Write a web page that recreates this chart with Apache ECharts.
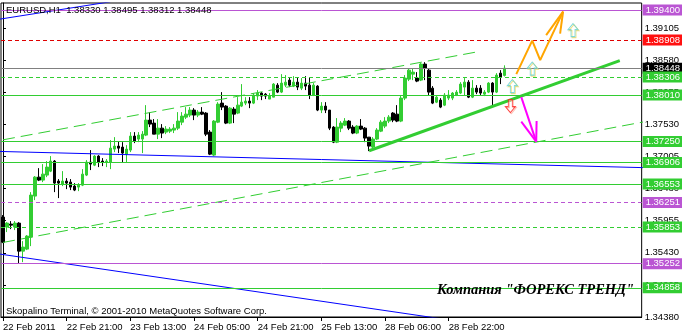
<!DOCTYPE html>
<html><head><meta charset="utf-8">
<script src="https://cdn.jsdelivr.net/npm/echarts@6/dist/echarts.min.js"></script>
<style>html,body{margin:0;padding:0;background:#fff}#c{width:682px;height:336px}</style>
</head><body><div id="c"></div>
<script>
// [open, close, low, high]
const candles = [
[1.36013,1.35604,1.35588,1.36046],[1.35850,1.35915,1.35768,1.35931],[1.35899,1.35882,1.35817,1.35948],[1.35850,1.35915,1.35801,1.35948],
[1.35915,1.35457,1.35261,1.35931],[1.35457,1.35523,1.35277,1.35621],[1.35490,1.35703,1.35474,1.35719],[1.35686,1.36373,1.35539,1.36422],
[1.36357,1.36667,1.36291,1.36684],[1.36667,1.36618,1.36602,1.36814],[1.36618,1.36716,1.36585,1.36880],[1.36700,1.36831,1.36667,1.36929],
[1.36765,1.36929,1.36749,1.37011],[1.36929,1.36569,1.36422,1.36945],[1.36602,1.36569,1.36324,1.36635],[1.36553,1.36602,1.36520,1.36765],
[1.36602,1.36569,1.36471,1.36651],[1.36585,1.36504,1.36455,1.36635],[1.36520,1.36455,1.36438,1.36569],[1.36504,1.36536,1.36438,1.36569],
[1.36536,1.36716,1.36520,1.36798],[1.36700,1.36912,1.36684,1.36945],[1.36912,1.36880,1.36782,1.37109],[1.36863,1.37011,1.36847,1.37027],
[1.37011,1.36912,1.36831,1.37027],[1.36929,1.36912,1.36847,1.36978],[1.36912,1.36929,1.36831,1.36962],[1.36912,1.37141,1.36798,1.37272],
[1.37125,1.37174,1.37076,1.37321],[1.37174,1.37141,1.37060,1.37256],[1.37158,1.37060,1.36912,1.37239],[1.37043,1.37125,1.36912,1.37190],
[1.37109,1.37338,1.37076,1.37403],[1.37338,1.37256,1.37223,1.37403],[1.37289,1.37354,1.37239,1.37403],[1.37289,1.37370,1.37060,1.37419],
[1.37354,1.37599,1.37338,1.37844],[1.37599,1.37534,1.37485,1.37730],[1.37550,1.37370,1.37370,1.37616],[1.37370,1.37468,1.37289,1.37616],
[1.37468,1.37387,1.37305,1.37534],[1.37403,1.37452,1.37370,1.37501],[1.37419,1.37452,1.37387,1.37485],[1.37436,1.37468,1.37387,1.37534],
[1.37468,1.37583,1.37436,1.37730],[1.37566,1.37665,1.37517,1.37730],[1.37648,1.37697,1.37616,1.37812],[1.37681,1.37763,1.37648,1.37812],
[1.37763,1.37681,1.37599,1.37795],[1.37681,1.37730,1.37648,1.37763],[1.37730,1.37697,1.37681,1.37812],[1.37714,1.37370,1.37338,1.37730],
[1.37403,1.37043,1.37027,1.37436],[1.37027,1.37583,1.37011,1.37599],[1.37566,1.37861,1.37550,1.37893],[1.37877,1.37812,1.37763,1.38057],
[1.37828,1.37550,1.37534,1.37844],[1.37550,1.37795,1.37534,1.37812],[1.37779,1.37697,1.37550,1.37812],[1.37714,1.37844,1.37697,1.37975],
[1.37828,1.37893,1.37812,1.38188],[1.37877,1.37910,1.37844,1.37975],[1.37910,1.37877,1.37795,1.37975],[1.37877,1.38008,1.37861,1.38041],
[1.37992,1.38041,1.37926,1.38090],[1.38041,1.37992,1.37926,1.38057],[1.38024,1.37992,1.37943,1.38041],[1.37943,1.37992,1.37943,1.38041],
[1.37975,1.38188,1.37975,1.38204],[1.38171,1.38057,1.38041,1.38204],[1.38057,1.38204,1.38041,1.38351],[1.38171,1.38220,1.38139,1.38335],
[1.38253,1.38171,1.38139,1.38302],[1.38155,1.38220,1.38139,1.38318],[1.38220,1.38139,1.38090,1.38302],[1.38122,1.38204,1.38090,1.38286],
[1.38204,1.38155,1.38090,1.38318],[1.38171,1.38008,1.37943,1.38302],[1.38008,1.38171,1.37992,1.38204],[1.38155,1.37763,1.37746,1.38171],
[1.37763,1.37828,1.37714,1.37893],[1.37828,1.37763,1.37714,1.37893],[1.37763,1.37468,1.37436,1.37763],[1.37485,1.37239,1.37223,1.37501],
[1.37239,1.37485,1.37223,1.37632],[1.37468,1.37550,1.37403,1.37583],[1.37517,1.37583,1.37501,1.37632],[1.37583,1.37468,1.37436,1.37599],
[1.37485,1.37387,1.37370,1.37517],[1.37387,1.37501,1.37370,1.37517],[1.37501,1.37452,1.37436,1.37616],[1.37468,1.37305,1.37239,1.37485],
[1.37321,1.37174,1.37092,1.37321],[1.37158,1.37289,1.37141,1.37321],[1.37289,1.37436,1.37272,1.37468],[1.37419,1.37566,1.37403,1.37599],
[1.37501,1.37583,1.37468,1.37648],[1.37583,1.37648,1.37550,1.37681],[1.37714,1.37599,1.37566,1.37730],[1.37697,1.37583,1.37566,1.37844],
[1.37583,1.37959,1.37566,1.38008],[1.37959,1.38286,1.37926,1.38335],[1.38269,1.38416,1.38237,1.38449],[1.38351,1.38384,1.38253,1.38449],
[1.38286,1.38237,1.38220,1.38384],[1.38253,1.38515,1.38237,1.38531],[1.38515,1.38449,1.38253,1.38547],[1.38416,1.38057,1.38008,1.38449],
[1.38122,1.37877,1.37861,1.38155],[1.37893,1.37975,1.37877,1.37992],[1.37926,1.37812,1.37795,1.37959],[1.37844,1.38008,1.37828,1.38041],
[1.37959,1.38008,1.37926,1.38090],[1.37959,1.38041,1.37926,1.38057],[1.38008,1.38057,1.37992,1.38090],[1.38041,1.38188,1.38024,1.38220],
[1.38139,1.38220,1.38008,1.38286],[1.38220,1.37975,1.37959,1.38253],[1.37975,1.38122,1.37959,1.38253],[1.38122,1.38057,1.38024,1.38171],
[1.38122,1.38041,1.38008,1.38171],[1.38024,1.38057,1.37992,1.38090],[1.38057,1.38204,1.38041,1.38220],[1.38204,1.38057,1.37828,1.38220],
[1.38057,1.38335,1.38041,1.38367],[1.38367,1.38302,1.38188,1.38416],[1.38330,1.38448,1.38312,1.38495]
];
const slotCount = 161;
const xTickEvery = 16;
const xTickLabels = ['22 Feb 2011','22 Feb 21:00','23 Feb 13:00','24 Feb 05:00','24 Feb 21:00','25 Feb 13:00','28 Feb 06:00','28 Feb 22:00'];
const yTickStart = 1.34380, yTickStep = 0.00525, yTop = 1.39514;

const levelPrices = [1.39400, 1.38908, 1.38448, 1.38306, 1.38010, 1.37250, 1.36906, 1.36553, 1.36251, 1.35853, 1.35252, 1.34858];
const levelKinds  = ['purple','reddash','bid','greendash','green','green','green','green','purpledash','greendash','purple','green'];

const blueTopLine   = [[-2, 1.39238], [27, 1.39534]];
const blueUpperLine = [[-1, 1.37087], [161, 1.36822]];
const blueLowerLine = [[-1, 1.35411], [110, 1.34352]];
const chanUpperLine = [[0, 1.37277], [119.25, 1.38716]];
const chanLowerLine = [[0, 1.35599], [161, 1.37570]];
const trendLine     = [[92, 1.37098], [155, 1.38572]];
const orangePath    = [[129, 1.38351], [133, 1.38899], [135, 1.38580], [140.75, 1.39373]];
const orangeHeadA   = [[136.5, 1.38989], [140.75, 1.39373]];
const orangeHeadB   = [[140, 1.39013], [140.75, 1.39373]];
const magentaPath   = [[130.25, 1.37975], [134, 1.37248]];
const magentaHeadA  = [[130.25, 1.37575], [134, 1.37248]];
const magentaHeadB  = [[134.1, 1.37583], [134, 1.37248]];
const upArrows   = [[128, 1.38155], [133, 1.38441], [143.25, 1.39071]];
const downArrows = [[127.5, 1.37828]];

const FONT = 'Liberation Sans';
const GREEN = '#32CD32', PURPLE = '#BA55D3', BLUE = '#0000FF';
const kindStyle = {
  purple:     {line: PURPLE, type: 'solid', box: PURPLE},
  purpledash: {line: PURPLE, type: [4,3], box: PURPLE},
  reddash:    {line: '#E00000', type: [4,3], box: '#FF1010'},
  bid:        {line: '#808080', type: 'solid', box: '#000000'},
  green:      {line: GREEN, type: 'solid', box: GREEN},
  greendash:  {line: GREEN, type: [4,3], box: GREEN}
};

const slots = [];
for (let i = 0; i < slotCount; i++) slots.push(String(i));
const tickShown = (idx) => idx % xTickEvery === 0 && (idx / xTickEvery) < xTickLabels.length;

function seg(data, color, width, type, z) {
  return {type: 'line', xAxisIndex: 1, yAxisIndex: 0, data: data, symbol: 'none', silent: true,
    clip: true, z: z || 3, lineStyle: {color: color, width: width, type: type || 'solid'}};
}
const UP_PATH = 'path://M5,0L10,6L7,6L7,13L3,13L3,6L0,6Z';

const chart = echarts.init(document.getElementById('c'), null, {renderer: 'canvas'});
chart.setOption({
  animation: false,
  backgroundColor: '#fff',
  title: [
    {text: 'EURUSD,H1  1.38330 1.38495 1.38312 1.38448', left: 6, top: 5, padding: 0,
     textStyle: {fontFamily: FONT, fontSize: 9.5, fontWeight: 'normal', color: '#000'}},
    {text: 'Skopalino Terminal, \u00A9 2001-2010 MetaQuotes Software Corp.', left: 6, top: 306, padding: 0,
     textStyle: {fontFamily: FONT, fontSize: 9.5, fontWeight: 'normal', color: '#000'}},
    {text: 'Компания "ФОРЕКС ТРЕНД"', left: 437, top: 283, padding: 0,
     textStyle: {fontFamily: 'Liberation Serif', fontSize: 14.5, fontWeight: 'bold', fontStyle: 'italic', color: '#000'}}
  ],
  grid: {left: 1, right: 37, top: 3, bottom: 19, show: true, borderColor: '#000', borderWidth: 1, backgroundColor: '#fff'},
  xAxis: [
    {type: 'category', data: slots, boundaryGap: true,
     axisLine: {show: true, lineStyle: {color: '#000', width: 1}},
     axisTick: {show: true, interval: (i) => tickShown(i), alignWithLabel: true, length: 4, lineStyle: {color: '#000'}},
     axisLabel: {interval: (i) => tickShown(i), formatter: (v, i) => tickShown(i) ? xTickLabels[i / xTickEvery] : '',
       align: 'left', color: '#000', fontFamily: FONT, fontSize: 9.5, margin: 5},
     splitLine: {show: false}},
    {type: 'value', min: -0.5, max: slotCount - 0.5, show: false}
  ],
  yAxis: {type: 'value', position: 'right', min: yTickStart, max: yTop, interval: yTickStep,
    axisLine: {show: true, lineStyle: {color: '#000'}},
    axisTick: {show: true, length: 3, lineStyle: {color: '#000'}},
    axisLabel: {formatter: (v) => v.toFixed(5), showMaxLabel: false, showMinLabel: true,
      color: '#000', fontFamily: FONT, fontSize: 9.5, margin: 3},
    splitLine: {show: false}},
  series: [
    {type: 'candlestick', data: candles, barWidth: 3, z: 2,
     itemStyle: {color: GREEN, color0: '#000', borderColor: GREEN, borderColor0: '#000', borderWidth: 1},
     markLine: {symbol: ['none', 'none'], silent: true, animation: false, precision: 5,
       data: levelPrices.map((p, i) => {
         const s = kindStyle[levelKinds[i]];
         return {yAxis: p, lineStyle: {color: s.line, type: s.type, width: 1},
           label: {show: true, position: 'end', distance: 1, formatter: p.toFixed(5),
             backgroundColor: s.box, color: '#fff', fontFamily: FONT, fontSize: 9.5,
             lineHeight: 10, padding: [1, 4, 0, 3]}};
       })}},
    seg(blueTopLine, BLUE, 1),
    seg(blueUpperLine, BLUE, 1),
    seg(blueLowerLine, BLUE, 1),
    seg(chanUpperLine, GREEN, 1, [12, 6]),
    seg(chanLowerLine, GREEN, 1, [12, 6]),
    seg(trendLine, GREEN, 3, 'solid', 4),
    seg(orangePath, '#FFA500', 2, 'solid', 5),
    seg(orangeHeadA, '#FFA500', 2, 'solid', 5),
    seg(orangeHeadB, '#FFA500', 2, 'solid', 5),
    seg(magentaPath, '#FF00FF', 2, 'solid', 5),
    seg(magentaHeadA, '#FF00FF', 2, 'solid', 5),
    seg(magentaHeadB, '#FF00FF', 2, 'solid', 5),
    {type: 'scatter', xAxisIndex: 1, data: upArrows, symbol: UP_PATH, symbolSize: [10, 13], symbolOffset: [1, 1],
     silent: true, z: 6, itemStyle: {color: 'rgba(0,0,0,0)', borderColor: '#F0D860', borderWidth: 1}},
    {type: 'scatter', xAxisIndex: 1, data: upArrows, symbol: UP_PATH, symbolSize: [10, 13],
     silent: true, z: 6, itemStyle: {color: 'rgba(0,0,0,0)', borderColor: '#60D0D0', borderWidth: 1}},
    {type: 'scatter', xAxisIndex: 1, data: downArrows, symbol: UP_PATH, symbolSize: [10, 13], symbolRotate: 180, symbolOffset: [1, 1],
     silent: true, z: 6, itemStyle: {color: 'rgba(0,0,0,0)', borderColor: '#FFB0A0', borderWidth: 1}},
    {type: 'scatter', xAxisIndex: 1, data: downArrows, symbol: UP_PATH, symbolSize: [10, 13], symbolRotate: 180,
     silent: true, z: 6, itemStyle: {color: 'rgba(0,0,0,0)', borderColor: '#FF2020', borderWidth: 1}}
  ]
});
</script></body></html>
